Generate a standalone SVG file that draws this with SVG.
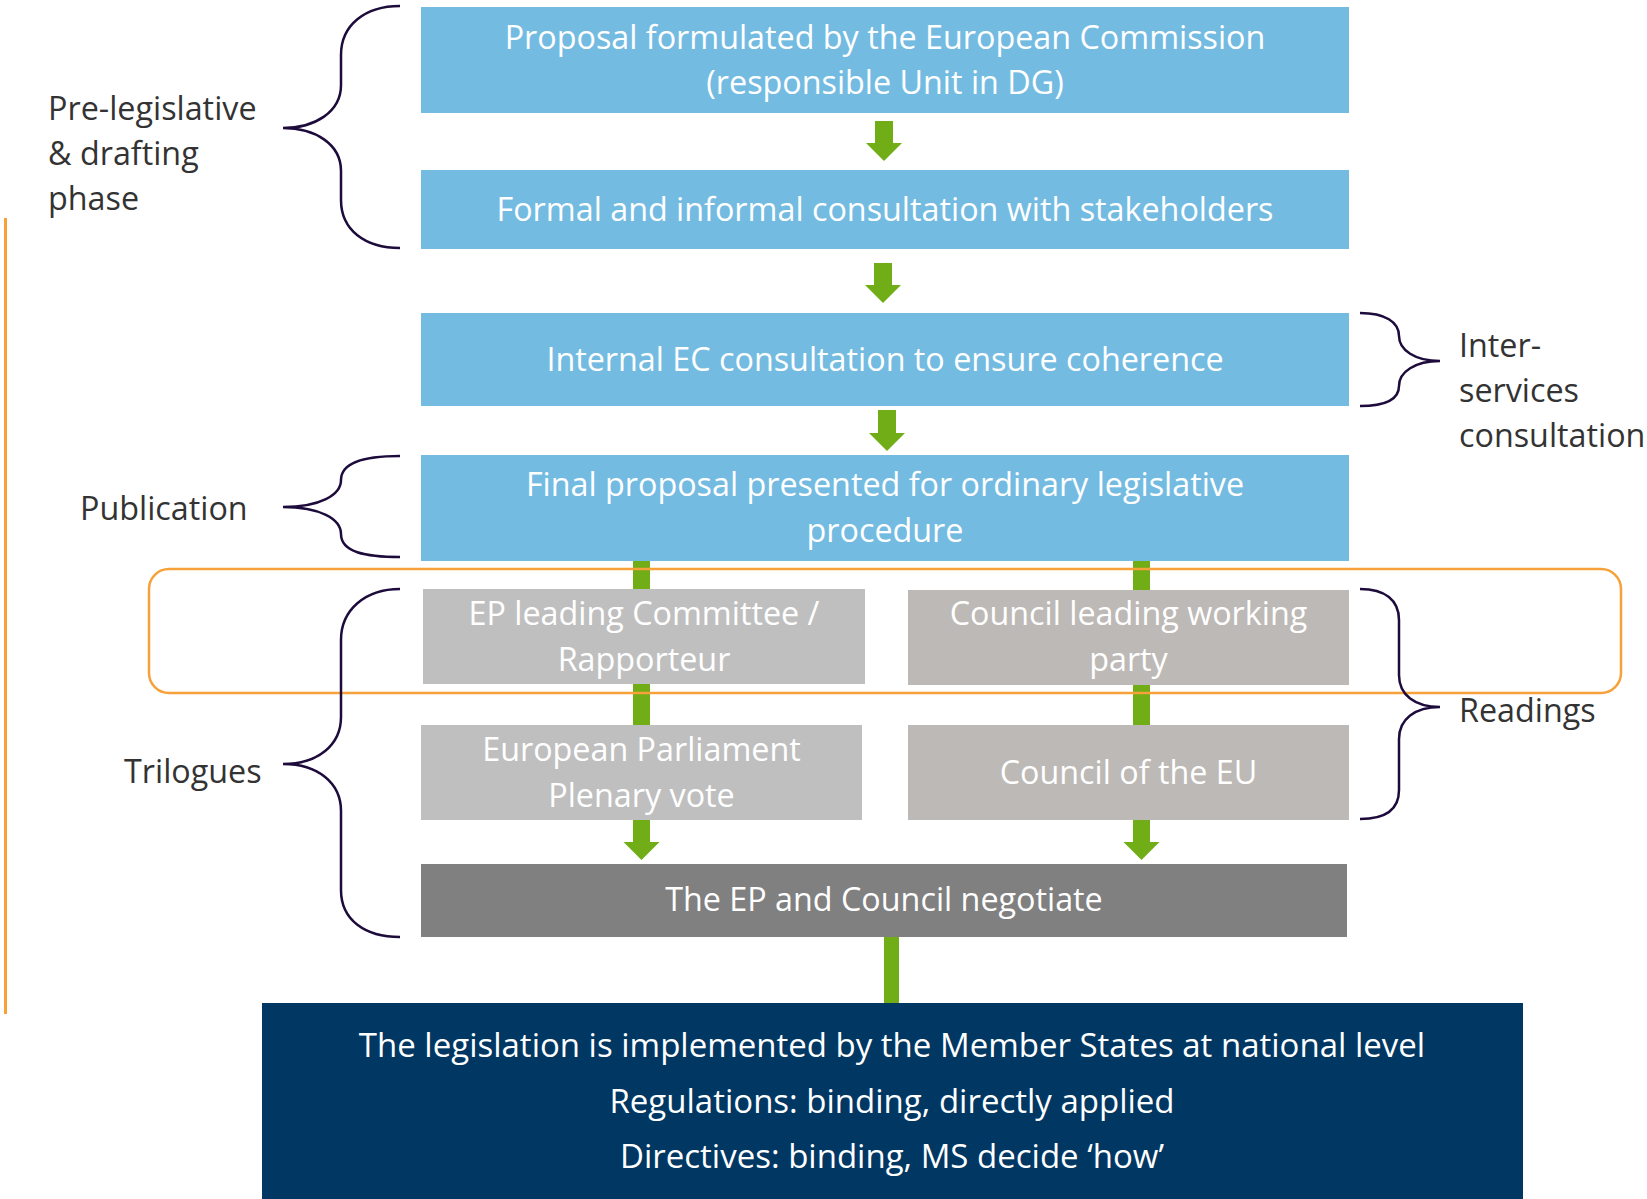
<svg xmlns="http://www.w3.org/2000/svg" width="1647" height="1199" viewBox="0 0 1647 1199">
<style>
  text { font-family: "Open Sans", "Noto Sans", "Liberation Sans", sans-serif; font-size: 32.3px; }
  .w { fill: #ffffff; text-anchor: middle; }
  .big { font-size: 33px; }
  .lab { fill: #333333; }
  .blue { fill: #74BBE2; }
  .brace { fill: none; stroke: #1C0B3B; stroke-width: 2.5; }
  .green { fill: #70AD17; }
</style>
<defs>
  <path id="arrowHead" d="M-18,0 L18,0 L0,18 Z"/>
</defs>
<rect width="1647" height="1199" fill="#ffffff"/>

<g id="connectors">
  <rect class="green" x="875" y="121" width="18" height="22"/>
  <use href="#arrowHead" class="green" x="884" y="143"/>
  <rect class="green" x="874" y="263" width="18" height="22"/>
  <use href="#arrowHead" class="green" x="883" y="285"/>
  <rect class="green" x="878" y="410" width="18" height="23"/>
  <use href="#arrowHead" class="green" x="887" y="433"/>
  <rect class="green" x="633" y="560" width="17" height="282"/>
  <use href="#arrowHead" class="green" x="641.5" y="842"/>
  <rect class="green" x="1133" y="560" width="17" height="282"/>
  <use href="#arrowHead" class="green" x="1141.5" y="842"/>
  <rect class="green" x="884" y="935" width="15" height="70"/>
</g>

<g id="node-proposal">
  <rect class="blue" x="421" y="7" width="928" height="106"/>
  <text class="w" x="885" y="49">Proposal formulated by the European Commission</text>
  <text class="w" x="885" y="94">(responsible Unit in DG)</text>
</g>
<g id="node-consultation">
  <rect class="blue" x="421" y="170" width="928" height="79"/>
  <text class="w" x="885" y="221">Formal and informal consultation with stakeholders</text>
</g>
<g id="node-internal">
  <rect class="blue" x="421" y="313" width="928" height="93"/>
  <text class="w" x="885" y="371">Internal EC consultation to ensure coherence</text>
</g>
<g id="node-final">
  <rect class="blue" x="421" y="455" width="928" height="106"/>
  <text class="w" x="885" y="496">Final proposal presented for ordinary legislative</text>
  <text class="w" x="885" y="542">procedure</text>
</g>
<g id="node-ep-committee">
  <rect x="423" y="589" width="442" height="95" fill="#BFBFBF"/>
  <text class="w" x="644" y="625">EP leading Committee /</text>
  <text class="w" x="644" y="671">Rapporteur</text>
</g>
<g id="node-council-party">
  <rect x="908" y="590" width="441" height="95" fill="#BDB9B6"/>
  <text class="w" x="1128.5" y="625">Council leading working</text>
  <text class="w" x="1128.5" y="671">party</text>
</g>
<g id="node-ep-plenary">
  <rect x="421" y="725" width="441" height="95" fill="#BFBFBF"/>
  <text class="w" x="641.5" y="761">European Parliament</text>
  <text class="w" x="641.5" y="807">Plenary vote</text>
</g>
<g id="node-council-eu">
  <rect x="908" y="725" width="441" height="95" fill="#BDB9B6"/>
  <text class="w" x="1128.5" y="784">Council of the EU</text>
</g>
<g id="node-negotiate">
  <rect x="421" y="864" width="926" height="73" fill="#808080"/>
  <text class="w" x="884" y="911">The EP and Council negotiate</text>
</g>
<g id="node-implementation">
  <rect x="262" y="1003" width="1261" height="200" fill="#003763"/>
  <text class="w big" x="892" y="1057">The legislation is implemented by the Member States at national level</text>
  <text class="w big" x="892" y="1113">Regulations: binding, directly applied</text>
  <text class="w big" x="892" y="1168">Directives: binding, MS decide ‘how’</text>
</g>

<g id="readings-highlight">
  <rect x="149" y="569" width="1472" height="124" rx="20" ry="20" fill="none" stroke="#F7A13A" stroke-width="2.5"/>
</g>
<g id="timeline-line">
  <rect x="4" y="218" width="3" height="796" fill="#F7A13A"/>
</g>

<g id="phase-prelegislative">
  <path class="brace" d="M400,6 C365,6 341,25 341,55 L341,85 C341,112 315,128 283,128 C315,128 341,144 341,171 L341,200 C341,230 365,248 400,248"/>
  <text class="lab" x="48" y="120">Pre-legislative</text>
  <text class="lab" x="48" y="165">&amp; drafting</text>
  <text class="lab" x="48" y="210">phase</text>
</g>
<g id="phase-publication">
  <path class="brace" d="M400,456 C365,456 341,462 341,480 C341,495 320,507 283,507 C320,507 341,519 341,534 C341,552 365,557 400,557"/>
  <text class="lab" x="80" y="520">Publication</text>
</g>
<g id="phase-trilogues">
  <path class="brace" d="M400,589 C365,589 341,610 341,640 L341,717 C341,745 318,764 283,764 C318,764 341,783 341,811 L341,890 C341,920 365,937 400,937"/>
  <text class="lab" x="124" y="783">Trilogues</text>
</g>
<g id="phase-interservices">
  <path class="brace" d="M1360,313 C1385,313 1399,322 1399,336 C1399,350 1415,361 1440,361 C1415,361 1399,372 1399,386 C1399,400 1385,406 1360,406"/>
  <text class="lab" x="1459" y="357">Inter-</text>
  <text class="lab" x="1459" y="402">services</text>
  <text class="lab" x="1459" y="447">consultation</text>
</g>
<g id="phase-readings">
  <path class="brace" d="M1360,589 C1385,589 1399,600 1399,620 L1399,675 C1399,695 1415,707 1440,707 C1415,707 1399,719 1399,739 L1399,790 C1399,810 1385,819 1360,819"/>
  <text class="lab" x="1459" y="722">Readings</text>
</g>
</svg>
